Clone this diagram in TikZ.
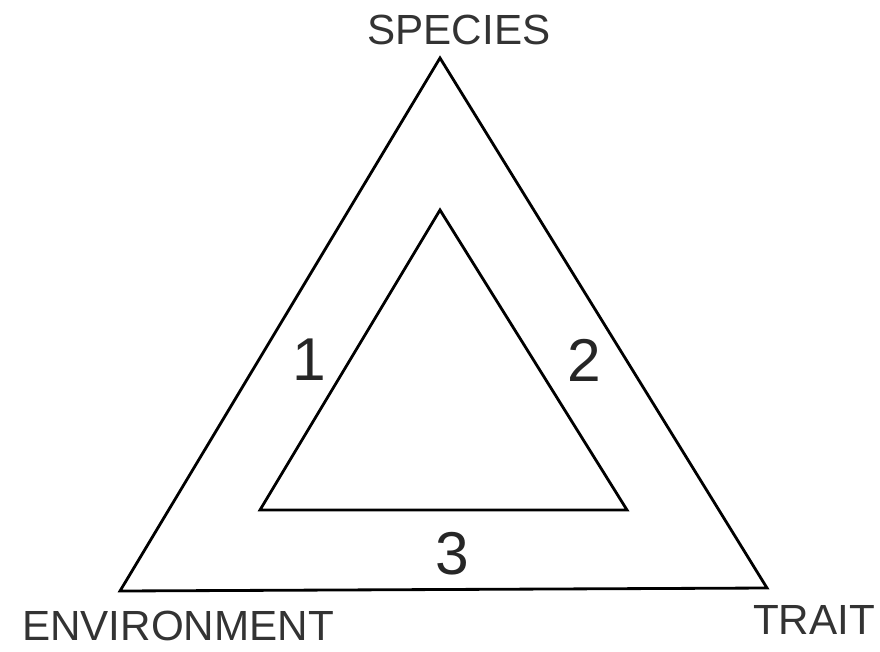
\documentclass[tikz,border=0pt]{standalone}
\usepackage{fontspec}
\setmainfont{Liberation Sans}
\usetikzlibrary{positioning}

\begin{document}
\begin{tikzpicture}[
    x=0.025cm, y=-0.025cm,
    tri/.style={
        draw,
        line width=2pt,
        line join=miter
    },
    corner/.style={
        inner sep=0pt,
        font=\fontsize{30}{36}\selectfont,
        text=black!80
    },
    side/.style={
        inner sep=0pt,
        font=\fontsize{43}{50}\selectfont,
        text=black!85
    }
]
\useasboundingbox (0,0) rectangle (880,651);

% Outer triangle
\coordinate (os) at (440,58);
\coordinate (oe) at (120,591);
\coordinate (ot) at (767,588);
\draw [tri] (os) -- (oe) -- (ot) -- cycle;

% Inner triangle
\coordinate (is) at (440,210);
\coordinate (ie) at (260,510);
\coordinate (it) at (627,510);
\draw [tri] (is) -- (ie) -- (it) -- cycle;

% Corner labels
\node (species) at (459,30)  [corner] {SPECIES};
\node (env)     at (178,626) [corner] {ENVIRONMENT};
\node (trait)   at (814,620) [corner] {TRAIT};

% Side numbers
\node (one)   at (309,360) [side] {1};
\node (two)   at (584,360) [side] {2};
\node (three) at (452,554) [side] {3};

\end{tikzpicture}
\end{document}
